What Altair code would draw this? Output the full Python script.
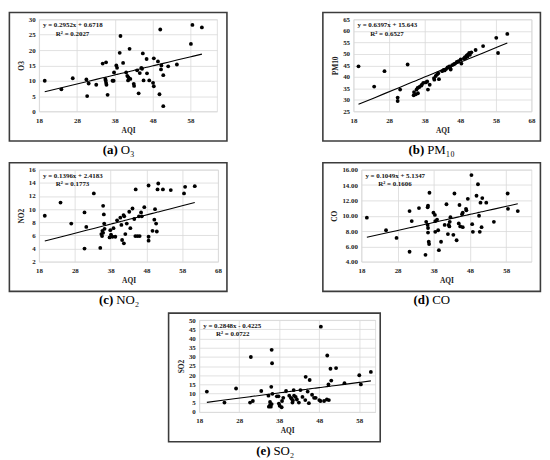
import altair as alt
import pandas as pd

# ---------------- data ----------------
aqi_a = [19.5, 23.9, 26.9, 30.5, 30.7, 31.1, 33.1, 34.8, 35.7, 35.5, 35.7, 35.8, 36.1, 35.6, 37.4,
         37.8, 37.7, 38.4, 38.6, 39.3, 39.5, 40.2, 41.0, 41.3, 41.5, 41.6, 41.9, 42.1, 43.0, 43.1,
         43.9, 44.3, 44.6, 45.0, 45.2, 45.4, 45.6, 46.4, 46.5, 47.1, 48.1, 48.3, 48.3, 49.4, 49.8,
         50.0, 50.2, 50.3, 50.8, 50.8, 52.1, 54.4, 58.1, 58.5, 61.0]
o3 = [10.0, 7.2, 10.8, 10.4, 5.0, 9.1, 8.7, 15.6, 16.0, 10.6, 9.3, 8.7, 5.4, 10.1, 10.0,
      12.7, 10.0, 15.0, 14.2, 19.1, 24.6, 15.8, 12.7, 11.6, 10.1, 11.1, 20.4, 10.6, 9.0, 8.3,
      13.4, 5.9, 12.5, 14.2, 13.9, 18.9, 10.1, 17.1, 12.4, 10.1, 9.3, 8.2, 17.3, 16.3, 5.6,
      26.7, 13.7, 15.0, 11.8, 1.7, 14.7, 15.3, 22.0, 28.2, 27.4]

aqi_b = [19.4, 23.8, 26.7, 30.4, 30.4, 31.1, 33.2, 34.9, 35.0, 35.5, 35.7, 36.0, 36.1, 36.5, 37.0,
         37.2, 37.6, 38.3, 38.7, 38.9, 39.4, 40.6, 40.7, 41.1, 41.5, 41.8, 42.0, 42.9, 43.3, 43.6,
         44.0, 44.4, 44.9, 45.2, 45.3, 45.7, 46.2, 46.5, 47.0, 47.5, 48.1, 48.3, 49.0, 49.3, 49.5,
         49.8, 50.0, 50.2, 50.5, 50.7, 51.1, 52.3, 54.4, 58.1, 58.6, 61.2]
pm10 = [44.6, 35.8, 42.5, 29.5, 31.0, 34.5, 45.4, 32.0, 33.4, 32.4, 34.5, 35.2, 32.9, 35.6, 36.2,
        36.6, 37.4, 37.6, 38.0, 34.5, 36.6, 39.5, 38.8, 40.4, 41.1, 41.6, 39.0, 42.5, 43.0, 42.8,
        43.4, 44.1, 44.6, 43.7, 43.2, 45.1, 45.5, 45.8, 46.5, 46.8, 47.6, 45.8, 48.0, 48.6, 48.2,
        49.3, 48.9, 49.8, 50.4, 49.6, 50.7, 51.7, 53.4, 57.0, 50.4, 58.7]

aqi_c = [19.6, 24.0, 27.0, 30.7, 30.7, 31.2, 33.3, 35.1, 35.4, 35.6, 35.7, 35.9, 36.1, 36.2, 36.3,
         35.9, 37.7, 37.9, 38.1, 38.5, 38.8, 39.3, 39.8, 40.7, 41.0, 41.2, 41.6, 41.7, 41.8, 42.1,
         42.5, 43.2, 43.5, 44.1, 44.6, 44.9, 45.0, 45.5, 45.9, 46.1, 46.5, 46.7, 47.4, 48.6, 48.6,
         48.6, 49.7, 50.2, 50.4, 50.7, 50.9, 51.1, 51.3, 52.6, 54.8, 58.5, 58.8, 61.5]
no2 = [9.0, 11.0, 7.8, 9.5, 4.0, 7.3, 12.4, 4.1, 6.2, 5.9, 6.7, 10.5, 9.2, 7.8, 7.0,
       6.4, 5.7, 6.8, 6.1, 5.8, 7.1, 5.8, 8.3, 8.7, 7.6, 5.3, 9.1, 4.8, 8.9, 6.2,
       7.8, 9.6, 7.1, 10.1, 8.5, 5.9, 13.0, 5.9, 8.9, 5.9, 9.5, 8.9, 10.3, 5.8, 5.2,
       13.6, 6.7, 8.4, 10.0, 7.8, 6.6, 13.0, 13.9, 13.0, 12.9, 12.4, 13.4, 13.5]

aqi_d = [19.5, 24.8, 27.7, 31.3, 31.3, 31.9, 33.9, 35.7, 35.9, 36.3, 36.4, 36.3, 36.4, 36.4, 36.6,
         36.7, 36.8, 37.9, 38.3, 38.4, 38.4, 38.9, 39.2, 39.4, 40.0, 41.0, 41.5, 41.9, 42.1, 42.3,
         42.4, 42.6, 43.4, 43.7, 44.3, 44.9, 45.1, 45.3, 45.8, 46.0, 46.0, 46.9, 47.0, 47.4, 48.4,
         48.6, 48.8, 49.8, 50.2, 50.5, 50.7, 50.9, 51.2, 51.4, 52.5, 54.6, 58.4, 58.5, 61.2]
co = [9.75, 8.1, 7.1, 10.6, 5.3, 9.3, 11.0, 4.9, 9.2, 11.1, 11.3, 8.8, 8.4, 7.8, 6.6,
      6.3, 13.0, 10.4, 10.1, 9.3, 7.9, 9.5, 8.1, 5.5, 6.6, 8.8, 11.5, 7.6, 8.8, 8.6,
      9.2, 9.8, 7.5, 12.9, 6.8, 9.0, 11.4, 8.6, 10.2, 10.4, 8.5, 10.9, 10.7, 12.2, 15.3,
      8.9, 7.9, 12.6, 14.1, 10.0, 7.9, 11.7, 8.5, 12.3, 11.7, 9.2, 12.9, 10.9, 10.6]

aqi_e = [19.9, 24.3, 27.2, 30.7, 30.9, 31.4, 33.5, 35.3, 35.4, 35.7, 35.7, 35.9, 36.0, 36.1, 36.1,
         36.2, 36.3, 37.4, 37.8, 37.9, 38.1, 38.6, 38.7, 39.0, 39.7, 40.5, 40.9, 41.1, 41.3, 41.4,
         41.6, 41.7, 42.1, 42.4, 42.9, 43.3, 43.8, 44.5, 44.6, 45.1, 45.4, 45.6, 46.2, 46.7, 47.1,
         48.0, 48.3, 48.4, 49.2, 49.9, 50.0, 50.3, 50.4, 50.8, 51.0, 52.2, 54.3, 58.0, 58.4, 60.9]
so2 = [11.1, 5.1, 12.8, 5.1, 29.9, 6.0, 11.4, 8.9, 2.9, 5.5, 3.8, 2.9, 13.7, 4.3, 33.8,
       26.5, 9.9, 8.5, 8.5, 4.6, 3.4, 2.6, 6.0, 7.7, 11.4, 8.9, 7.7, 7.2, 5.1, 6.3,
       11.9, 8.9, 8.2, 6.8, 5.1, 11.9, 8.2, 6.5, 19.1, 11.1, 4.8, 17.4, 9.4, 7.7, 7.7,
       6.5, 6.0, 46.4, 6.0, 6.8, 30.7, 15.0, 6.5, 23.5, 17.1, 23.9, 15.7, 20.0, 15.0, 21.8]

# trendline coefficients and R² printed on each panel
slopes = [0.2952, 0.6397, 0.1396, 0.1049, 0.2848]
intercepts = [0.6718, 15.643, 2.4183, 5.1347, -0.4225]
r2s = ["0.2027", "0.6527", "0.1773", "0.1606", "0.0722"]

# axis ticks / domains
xticks_short = [18, 28, 38, 48, 58]
xticks_long = [18, 28, 38, 48, 58, 68]
yticks_a = [0, 5, 10, 15, 20, 25, 30]
yticks_b = [25, 30, 35, 40, 45, 50, 55, 60, 65]
yticks_c = [2, 4, 6, 8, 10, 12, 14, 16]
yticks_d = [4, 6, 8, 10, 12, 14, 16]
yticks_e = [0, 5, 10, 15, 20, 25, 30, 35, 40, 45, 50]

ytitles = ["O3", "PM10", "NO2", "CO", "SO2"]
letters = ["(a)", "(b)", "(c)", "(d)", "(e)"]
names = ["O\u2083", "PM\u2081\u2080", "NO\u2082", "CO", "SO\u2082"]

FONT = "Liberation Serif"
H = 93
TOP = 7
BOTTOM = 30


def panel(i, aqi, vals, xdom, xticks, ydom, yticks, yfmt, W, L, R, name_w):
    df = pd.DataFrame({"AQI": aqi, "val": vals})

    def xenc():
        return alt.X("AQI:Q", scale=alt.Scale(domain=xdom, nice=False, zero=False),
                     axis=alt.Axis(values=xticks, title="AQI"))

    def yenc(field):
        return alt.Y(f"{field}:Q", scale=alt.Scale(domain=ydom, nice=False, zero=False),
                     axis=alt.Axis(values=yticks, title=ytitles[i], format=yfmt))

    base = alt.Chart(df)
    pts = base.mark_circle(size=15, color="black", opacity=1).encode(x=xenc(), y=yenc("val"))
    fit = base.transform_calculate(
        fit=f"{slopes[i]} * datum.AQI + ({intercepts[i]})"
    ).mark_line(color="black", strokeWidth=1.1).encode(x=xenc(), y=yenc("fit"))

    one = alt.Data(values=[{"k": 0}])
    b = intercepts[i]
    eq = f"y = {slopes[i]:g}x {'+' if b >= 0 else '-'} {abs(b):g}"
    eq_t = alt.Chart(one).mark_text(align="left", baseline="middle", font=FONT,
                                     fontWeight="bold", fontSize=7, color="#111").encode(
        x=alt.value(4), y=alt.value(6), text=alt.value(eq))
    r2_t = alt.Chart(one).mark_text(align="left", baseline="middle", font=FONT,
                                     fontWeight="bold", fontSize=7, color="#111").encode(
        x=alt.value(17), y=alt.value(14.5), text=alt.value(f"R\u00b2 = {r2s[i]}"))

    box = alt.Chart(one).mark_rect(filled=False, stroke="#3c3c3c", strokeWidth=1.6).encode(
        x=alt.value(-L), x2=alt.value(W + R), y=alt.value(-TOP), y2=alt.value(H + BOTTOM))

    cx = (W + R - L) / 2.0
    lw, gap = 15, 3
    total = lw + gap + name_w
    left = cx - total / 2.0
    cap_y = H + BOTTOM + 9
    cap1 = alt.Chart(one).mark_text(align="right", baseline="middle", font=FONT,
                                     fontWeight="bold", fontSize=13, color="black").encode(
        x=alt.value(left + lw), y=alt.value(cap_y), text=alt.value(letters[i]))
    cap2 = alt.Chart(one).mark_text(align="left", baseline="middle", font=FONT,
                                     fontSize=13, color="black").encode(
        x=alt.value(left + lw + gap), y=alt.value(cap_y), text=alt.value(names[i]))

    return alt.layer(box, pts, fit, eq_t, r2_t, cap1, cap2).properties(width=W, height=H)


pa = panel(0, aqi_a, o3, [18, 65], xticks_short, [0, 30], yticks_a, "d", 180, 30, 10, 13)
pb = panel(1, aqi_b, pm10, [18, 68], xticks_long, [25, 65], yticks_b, "d", 180, 31, 9, 27)
pc = panel(2, aqi_c, no2, [18, 68], xticks_long, [2, 16], yticks_c, "d", 181, 30, 9, 22)
pd_ = panel(3, aqi_d, co, [18, 65], xticks_short, [4, 16], yticks_d, ".2f", 172, 39, 9, 17)
pe = panel(4, aqi_e, so2, [18, 62], xticks_short, [0, 50], yticks_e, "d", 178, 31, 5, 20)

row1 = alt.hconcat(pa, pb, spacing=93)
row2 = alt.hconcat(pc, pd_, spacing=93)

chart = alt.vconcat(row1, row2, pe, spacing=3, center=True).properties(
    padding=0, background="white"
).configure_view(
    stroke="#d9d9d9", strokeWidth=0.8
).configure_axis(
    labelFont=FONT, labelFontWeight="bold", labelFontSize=7, labelColor="#222",
    titleFont=FONT, titleFontWeight="bold", titleFontSize=7.5, titleColor="#222",
    domain=False, ticks=False, grid=True, gridColor="#d9d9d9", gridWidth=0.8,
    labelFlush=False, labelOverlap=False, labelPadding=4, titlePadding=3
).configure_axisX(
    labelPadding=5, titlePadding=3
)

chart.save("out.html", embed_options={"renderer": "svg", "actions": False})
